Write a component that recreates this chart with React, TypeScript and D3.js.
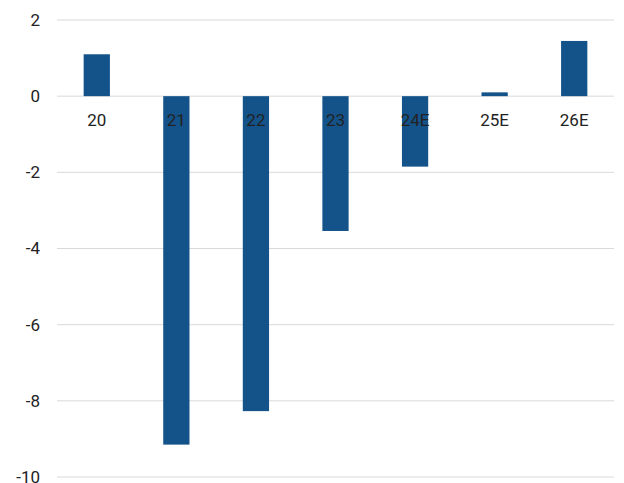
import React from "react";
import * as d3 from "d3";

const categories = ["20", "21", "22", "23", "24E", "25E", "26E"];
const values = [1.1, -9.15, -8.27, -3.54, -1.85, 0.1, 1.45];
const yTicks = [2, 0, -2, -4, -6, -8, -10];

export default function App() {
  const width = 624;
  const height = 483;
  const left = 57;
  const right = 614;
  const top = 20;
  const bottom = 477;

  const x = d3.scaleBand<string>().domain(categories).range([left, right]).paddingInner(0.67).paddingOuter(0.335);
  const y = d3.scaleLinear().domain([-10, 2]).range([bottom, top]);

  return (
    <svg width={width} height={height} style={{ position: "absolute", left: 0, top: 0 }} fontFamily="Roboto, sans-serif">
      <rect width={width} height={height} fill="#fff" />
      {yTicks.map((t) => (
        <g key={t}>
          <line x1={left} x2={right} y1={y(t)} y2={y(t)} stroke="#d9d9d9" strokeWidth={1} />
          <text x={40} y={y(t)} dy="0.35em" textAnchor="end" fontSize={17} fill="#222">
            {t}
          </text>
        </g>
      ))}
      {categories.map((c, i) => {
        const v = values[i];
        const y0 = y(0);
        const y1 = y(v);
        return (
          <rect key={c} x={x(c)} width={x.bandwidth()} y={Math.min(y0, y1)} height={Math.abs(y1 - y0)} fill="#14538a" />
        );
      })}
      {categories.map((c) => (
        <text key={c} x={(x(c) as number) + x.bandwidth() / 2} y={126} textAnchor="middle" fontSize={17} fill="#222">
          {c}
        </text>
      ))}
    </svg>
  );
}
